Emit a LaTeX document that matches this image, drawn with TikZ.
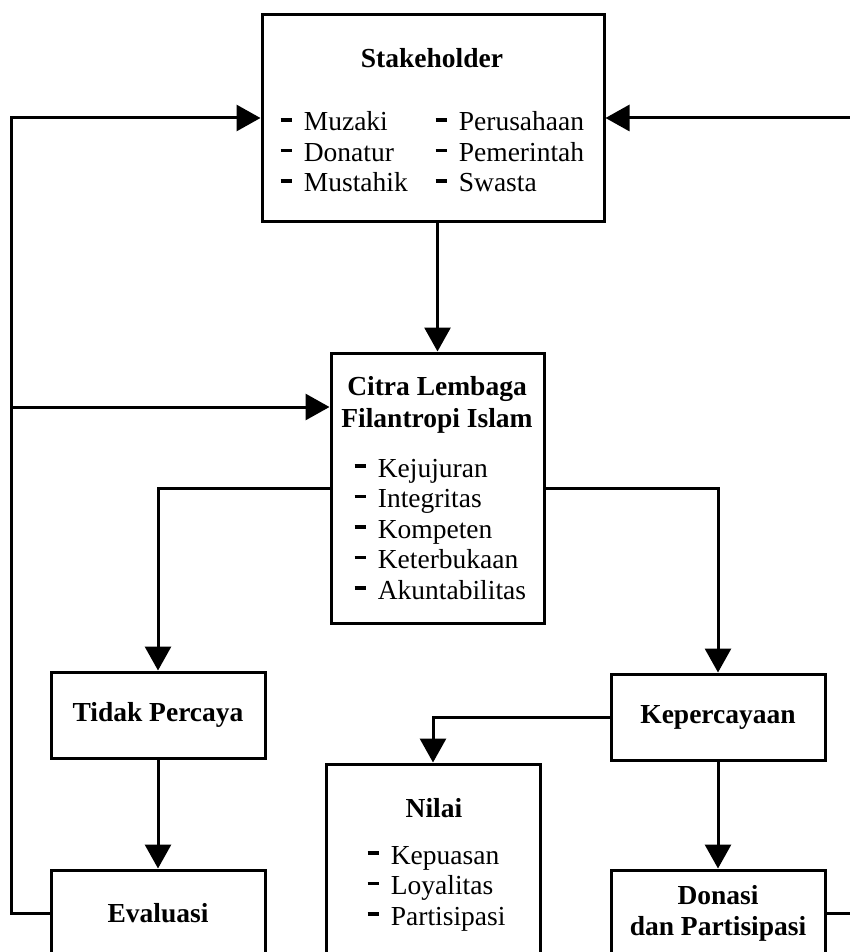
\documentclass[tikz,border=0pt]{standalone}
\usepackage{fontspec}
\setmainfont{Liberation Serif}
\usetikzlibrary{arrows.meta}
\newcommand{\dsh}{\rule[0.33em]{0.4em}{0.14em}\hspace{0.45em}}

\begin{document}
\begin{tikzpicture}
[x=1pt,y=-1pt,line width=3pt,
 box/.style={draw,rectangle,inner sep=0pt,minimum width=214pt,minimum height=86pt,
   font=\bfseries\fontsize{27.5}{31}\selectfont,align=center},
 ttl/.style={font=\bfseries\fontsize{27.5}{32}\selectfont,align=center,inner sep=0pt},
 itm/.style={font=\fontsize{27.5}{30.5}\selectfont,align=left,inner sep=0pt},
 arr/.style={-{Triangle[length=24pt,width=26pt]}}]
  \useasboundingbox (0,0) rectangle (850,952);
  \clip (0,0) rectangle (850,952);

  \node[box,minimum width=342pt,minimum height=206pt] (sh) at (433,118) {};
  \node[box,minimum width=213pt,minimum height=270pt] (ct) at (437.5,488) {};
  \node[box] (tp) at (158,715) {Tidak Percaya};
  \node[box] (kp) at (718,717) {Kepercayaan};
  \node[box,minimum height=192pt] (ni) at (433,860) {};
  \node[box] (ev) at (158,913) {Evaluasi};
  \node[box] (dn) at (718,913) {Donasi\\dan Partisipasi};

  \node[ttl,anchor=base] (sht) at (432,68) {Stakeholder};
  \node[itm,anchor=base west] (shl) at (279,192) {\dsh Muzaki\\\dsh Donatur\\\dsh Mustahik};
  \node[itm,anchor=base west] (shr) at (434,192) {\dsh Perusahaan\\\dsh Pemerintah\\\dsh Swasta};
  \node[ttl,anchor=base] (ctt) at (437,427) {Citra Lembaga\\Filantropi Islam};
  \node[itm,anchor=base west] (ctl) at (353,599)
    {\dsh Kejujuran\\\dsh Integritas\\\dsh Kompeten\\\dsh Keterbukaan\\\dsh Akuntabilitas};
  \node[ttl,anchor=base] (nit) at (434,817) {Nilai};
  \node[itm,anchor=base west] (nil) at (366,925) {\dsh Kepuasan\\\dsh Loyalitas\\\dsh Partisipasi};

  \coordinate (lt) at (11,118);
  \coordinate (lm) at (11,407);
  \coordinate (rt) at (860,118);
  \coordinate (rb) at (860,913);

  \foreach \from/\to in {tp/ev, kp/dn}
    \draw[arr] (\from) -- (\to);
  \draw[arr] (ct.north |- sh.south) -- (ct.north);
  \draw[arr] (ct.west) -| (tp.north);
  \draw[arr] (ct.east) -| (kp.north);
  \draw[arr] (kp.west) -| (ni.north);
  \draw[arr] (ev.west) -| (lt) -- (sh.west);
  \draw[arr] (lm) -- (ct.west |- lm);
  \draw[arr] (rt) -- (sh.east);
  \draw (dn.east) -- (rb);
\end{tikzpicture}
\end{document}
